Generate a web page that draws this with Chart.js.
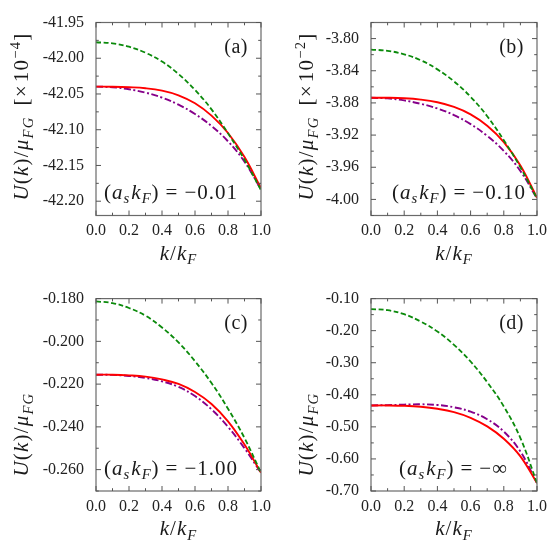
<!DOCTYPE html>
<html><head><meta charset="utf-8">
<script src="https://cdn.jsdelivr.net/npm/chart.js@4.4.1/dist/chart.umd.min.js"></script>
<style>
html,body{margin:0;padding:0;background:#fff;width:554px;height:554px;overflow:hidden}
canvas{position:absolute}
</style></head>
<body>
<canvas id="ca" width="277" height="277" style="left:0;top:0"></canvas>
<canvas id="cb" width="277" height="277" style="left:277px;top:0"></canvas>
<canvas id="cc" width="277" height="277" style="left:0;top:277px"></canvas>
<canvas id="cd" width="277" height="277" style="left:277px;top:277px"></canvas>
<script>
// ---------------- data ----------------
const kValues = [0.0, 0.1, 0.2, 0.3, 0.4, 0.5, 0.6, 0.7, 0.8, 0.9, 1.0];

const greenA  = [-41.9776,-41.9792,-41.9839,-41.9923,-42.0047,-42.0220,-42.0444,-42.0715,-42.1051,-42.1420,-42.1845];
const redA    = [-42.0397,-42.0399,-42.0406,-42.0420,-42.0453,-42.0518,-42.0630,-42.0803,-42.1046,-42.1383,-42.1817];
const purpleA = [-42.0397,-42.0406,-42.0434,-42.0481,-42.0551,-42.0649,-42.0780,-42.0948,-42.1163,-42.1448,-42.1835];

const greenB  = [-3.8137,-3.8152,-3.8195,-3.8270,-3.8383,-3.8532,-3.8724,-3.8965,-3.9264,-3.9601,-3.9988];
const redB    = [-3.8736,-3.8736,-3.8742,-3.8759,-3.8792,-3.8850,-3.8942,-3.9083,-3.9287,-3.9578,-3.9979];
const purpleB = [-3.8736,-3.8744,-3.8769,-3.8811,-3.8869,-3.8952,-3.9064,-3.9210,-3.9397,-3.9647,-3.9988];

const greenC  = [-0.1813,-0.1821,-0.1844,-0.1880,-0.1935,-0.2005,-0.2093,-0.2195,-0.2315,-0.2452,-0.2615];
const redC    = [-0.2156,-0.2156,-0.2159,-0.2165,-0.2178,-0.2199,-0.2237,-0.2293,-0.2374,-0.2483,-0.2615];
const purpleC = [-0.2156,-0.2157,-0.2162,-0.2171,-0.2187,-0.2213,-0.2256,-0.2318,-0.2400,-0.2500,-0.2615];

const greenD  = [-0.1331,-0.1362,-0.1487,-0.1716,-0.2027,-0.2442,-0.2962,-0.3605,-0.4363,-0.5350,-0.6752];
const redD    = [-0.4332,-0.4332,-0.4343,-0.4374,-0.4436,-0.4540,-0.4717,-0.4986,-0.5371,-0.5921,-0.6752];
const purpleD = [-0.4332,-0.4322,-0.4306,-0.4296,-0.4317,-0.4389,-0.4524,-0.4763,-0.5147,-0.5770,-0.6752];

const xTicks  = [0.0, 0.2, 0.4, 0.6, 0.8, 1.0];
const yTicksA = [-42.20, -42.15, -42.10, -42.05, -42.00, -41.95];
const yTicksB = [-4.00, -3.96, -3.92, -3.88, -3.84, -3.80];
const yTicksC = [-0.260, -0.240, -0.220, -0.200, -0.180];
const yTicksD = [-0.70, -0.60, -0.50, -0.40, -0.30, -0.20, -0.10];
const yRangeA = [-42.22, -41.95];
const yRangeB = [-4.02, -3.78];
const yRangeC = [-0.27, -0.18];
const yRangeD = [-0.70, -0.10];

const panelLabels = ['(a)', '(b)', '(c)', '(d)'];
const couplingValues = ['\u22120.01', '\u22120.10', '\u22121.00', '\u2212\u221E'];
const yExponents = ['\u22124', '\u22122', null, null];

// ---------------- rendering helpers ----------------
const FONT = '"Liberation Serif", "Times New Roman", serif';
function drawRich(ctx, segs, x, y, size, align, track) {
  const items = [];
  let w = 0;
  for (const s of segs) {
    if (s.gap !== undefined) { items.push({gap: s.gap}); w += s.gap; continue; }
    const fs = (s.sub || s.sup) ? size * 0.7 : size;
    const font = (s.it ? 'italic ' : '') + fs + 'px ' + FONT;
    ctx.font = font;
    for (const ch of s.t) {
      const mw = ctx.measureText(ch).width;
      items.push({ch, font, mw, dy: s.sub ? size * 0.22 : (s.sup ? -size * 0.4 : 0)});
      w += mw + track;
    }
  }
  let cx = align === 'center' ? x - w / 2 : (align === 'right' ? x - w : x);
  ctx.textAlign = 'left';
  ctx.textBaseline = 'alphabetic';
  for (const it of items) {
    if (it.gap !== undefined) { cx += it.gap; continue; }
    ctx.font = it.font;
    ctx.fillText(it.ch, cx, y + it.dy);
    cx += it.mw + track;
  }
}

const decorPlugin = {
  id: 'decor',
  afterDraw(chart, args, o) {
    const ctx = chart.ctx;
    const a = chart.chartArea;
    const xs = chart.scales.x, ys = chart.scales.y;
    ctx.save();
    // frame
    ctx.strokeStyle = '#6a6a6a';
    ctx.lineWidth = 1.2;
    ctx.strokeRect(a.left, a.top, a.right - a.left, a.bottom - a.top);
    // inward ticks
    ctx.lineWidth = 1;
    ctx.strokeStyle = '#555';
    const tickSet = (scale, horiz) => {
      const vals = scale.ticks.map(t => t.value);
      const step = vals[1] - vals[0];
      const out = [];
      vals.forEach(v => out.push({v, major: true}));
      for (let v = vals[0] - step / 2; v <= scale.max + 1e-9; v += step) {
        if (v >= scale.min - 1e-9) out.push({v, major: false});
      }
      out.forEach(t => {
        const p = scale.getPixelForValue(t.v);
        const len = t.major ? 5 : 2.8;
        ctx.beginPath();
        if (horiz) {
          ctx.moveTo(p, a.bottom); ctx.lineTo(p, a.bottom - len);
          ctx.moveTo(p, a.top); ctx.lineTo(p, a.top + len);
        } else {
          ctx.moveTo(a.left, p); ctx.lineTo(a.left + len, p);
          ctx.moveTo(a.right, p); ctx.lineTo(a.right - len, p);
        }
        ctx.stroke();
      });
    };
    tickSet(xs, true);
    tickSet(ys, false);
    ctx.fillStyle = '#1a1a1a';
    // panel label
    drawRich(ctx, [{t: o.label}], a.right - 13, a.top + 30, 20, 'right', 0.5);
    // coupling annotation
    drawRich(ctx, [{t: '('}, {t: 'a', it: 1}, {t: 's', it: 1, sub: 1}, {gap: 1}, {t: 'k', it: 1}, {t: 'F', it: 1, sub: 1}, {t: ')'},
                   {gap: 6}, {t: '='}, {gap: 6}, {t: o.coupling}],
             a.left + (a.right - a.left) * o.cfrac, a.top + 176, 21, 'center', 1);
    // x title
    drawRich(ctx, [{t: 'k', it: 1}, {t: '/'}, {t: 'k', it: 1}, {t: 'F', it: 1, sub: 1}],
             (a.left + a.right) / 2, a.bottom + 44, 21, 'center', 1);
    // y title (rotated)
    ctx.save();
    ctx.translate(a.left - o.titleOff, a.top + 178);
    ctx.rotate(-Math.PI / 2);
    const segs = [{t: 'U', it: 1}, {t: '('}, {t: 'k', it: 1}, {t: ')'}, {t: '/'}, {t: '\u03BC', it: 1}, {t: 'FG', it: 1, sub: 1}];
    if (o.exp) segs.push({gap: 11}, {t: '[\u00D7'}, {gap: 2}, {t: '10'}, {t: o.exp, sup: 1}, {t: ']'});
    drawRich(ctx, segs, 0, 0, 21, 'left', 1.2);
    ctx.restore();
    ctx.restore();
  }
};

function makePanel(id, cx, cy, geo, yRange, yTicks, dec, green, red, purple, idx, cfrac, titleOff) {
  const toPts = arr => kValues.map((k, i) => ({x: k, y: arr[i]}));
  const base = {pointRadius: 0, fill: false, tension: 0.4, borderCapStyle: 'butt'};
  new Chart(document.getElementById(id), {
    type: 'line',
    data: {
      datasets: [
        Object.assign({label: 'green', data: toPts(green), borderColor: '#0b8a0b', borderWidth: 1.8, borderDash: [5, 2.6]}, base),
        Object.assign({label: 'red', data: toPts(red), borderColor: '#ff0000', borderWidth: 1.9}, base),
        Object.assign({label: 'purple', data: toPts(purple), borderColor: '#86008a', borderWidth: 1.9, borderDash: [7, 2.5, 2, 2.5]}, base)
      ]
    },
    options: {
      responsive: false,
      animation: false,
      devicePixelRatio: 1,
      layout: {padding: {left: 0, top: geo.T - cy, right: cx + 277 - geo.R, bottom: 0}},
      plugins: {
        legend: {display: false}, tooltip: {enabled: false},
        decor: {label: panelLabels[idx], coupling: couplingValues[idx], exp: yExponents[idx], cfrac, titleOff}
      },
      scales: {
        x: {
          type: 'linear', min: 0, max: 1,
          afterBuildTicks: s => { s.ticks = xTicks.map(v => ({value: v})); },
          afterFit: s => { s.height = cy + 277 - geo.B; },
          grid: {display: false, drawTicks: false},
          border: {display: false},
          ticks: {autoSkip: false, maxRotation: 0, padding: 6, color: '#222',
                  font: {family: FONT, size: 16}, callback: v => Number(v).toFixed(1)}
        },
        y: {
          type: 'linear', min: yRange[0], max: yRange[1],
          afterBuildTicks: s => { s.ticks = yTicks.map(v => ({value: v})); },
          afterFit: s => { s.width = geo.L - cx; },
          grid: {display: false, drawTicks: false},
          border: {display: false},
          ticks: {autoSkip: false, padding: 12, color: '#222',
                  font: {family: FONT, size: 16}, callback: v => Number(v).toFixed(dec)}
        }
      }
    },
    plugins: [decorPlugin]
  });
}

makePanel('ca', 0, 0,     {L: 96,  R: 261, T: 22.5, B: 215.5}, yRangeA, yTicksA, 2, greenA, redA, purpleA, 0, 0.455, 68);
makePanel('cb', 277, 0,   {L: 371, R: 537, T: 22.5, B: 215.5}, yRangeB, yTicksB, 2, greenB, redB, purpleB, 1, 0.53, 58);
makePanel('cc', 0, 277,   {L: 96,  R: 261, T: 297.5, B: 491},  yRangeC, yTicksC, 3, greenC, redC, purpleC, 2, 0.455, 68);
makePanel('cd', 277, 277, {L: 371, R: 537, T: 298, B: 491},    yRangeD, yTicksD, 2, greenD, redD, purpleD, 3, 0.497, 58);
</script>
</body></html>
